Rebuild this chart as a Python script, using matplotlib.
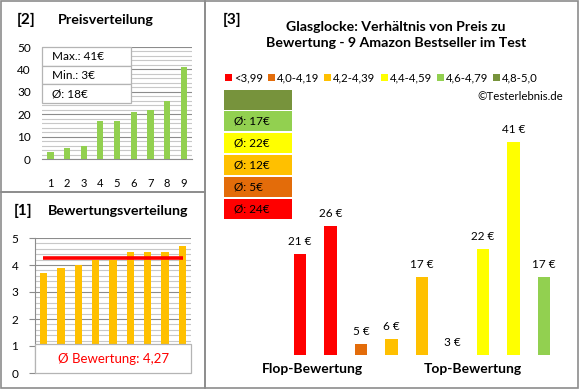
import matplotlib
matplotlib.use("Agg")
import matplotlib.pyplot as plt
from matplotlib.patches import Rectangle

plt.rcParams['font.family'] = ['Lato', 'DejaVu Sans']

# ---------------- data ----------------
price_idx = [1, 2, 3, 4, 5, 6, 7, 8, 9]
prices_sorted = [3, 5, 6, 17, 17, 21, 22, 26, 41]
price_stats = ["Max.: 41€", "Min.: 3€", "Ø: 18€"]

ratings = [3.7, 3.9, 4.0, 4.2, 4.2, 4.5, 4.5, 4.5, 4.7]
rating_mean = 4.27
rating_label = "Ø Bewertung: 4,27"

legend_labels = ["<3,99", "4,0-4,19", "4,2-4,39", "4,4-4,59", "4,6-4,79", "4,8-5,0"]
legend_colors = ["#FF0000", "#E36C0A", "#FFC000", "#FFFF00", "#92D050", "#77933C"]
group_avgs = ["", "Ø: 17€", "Ø: 22€", "Ø: 12€", "Ø: 5€", "Ø: 24€"]
group_colors = ["#77933C", "#92D050", "#FFFF00", "#FFC000", "#E36C0A", "#FF0000"]

bar_prices = [21, 26, 5, 6, 17, 3, 22, 41, 17]
bar_colors = ["#FF0000", "#FF0000", "#E36C0A", "#FFC000", "#FFC000",
              "#FFFF00", "#FFFF00", "#FFFF00", "#92D050"]
bar_labels = ["21 €", "26 €", "5 €", "6 €", "17 €", "3 €", "22 €", "41 €", "17 €"]
group_names = ["Flop-Bewertung", "Top-Bewertung"]

title3 = "Glasglocke: Verhältnis von Preis zu\nBewertung - 9 Amazon Bestseller im Test"

W, H = 580, 390
fig = plt.figure(figsize=(W / 100, H / 100), dpi=100)
fig.patch.set_facecolor("white")


def ax_px(x, y, w, h):
    return fig.add_axes([x / W, 1 - (y + h) / H, w / W, h / H])


def fx(x):
    return x / W


def fy(y):
    return 1 - y / H


border = "#8c8c8c"
# panel borders
for (x0, y0, x1, y1) in [(1, 1, 205, 192), (1, 192, 205, 388), (205, 1, 578, 388)]:
    fig.add_artist(Rectangle((fx(x0), fy(y1)), fx(x1) - fx(x0), fy(y0) - fy(y1),
                             transform=fig.transFigure, fill=False,
                             edgecolor=border, linewidth=1.2))

# ---------------- panel 2: Preisverteilung ----------------
ax2 = ax_px(42, 47, 150, 112)
ax2.bar(price_idx, prices_sorted, width=0.38, color="#92D050", zorder=3)
ax2.set_xlim(0.5, 9.5)
ax2.set_ylim(0, 50)
ax2.set_yticks([0, 10, 20, 30, 40, 50])
ax2.set_yticks(range(0, 51, 2), minor=True)
ax2.grid(axis='y', which='major', color="#8c8c8c", linewidth=0.8, zorder=0)
ax2.grid(axis='y', which='minor', color="#c8c8c8", linewidth=0.8, zorder=0)
ax2.set_xticks(price_idx)
ax2.tick_params(axis='x', length=0, pad=14, labelsize=8)
ax2.tick_params(axis='y', which='both', length=0, pad=8, labelsize=8.5)
for s in ["top", "right", "left"]:
    ax2.spines[s].set_visible(False)
ax2.spines["bottom"].set_color("#8c8c8c")
ax2.set_axisbelow(True)
# stats box
for i, t in enumerate(price_stats):
    y0 = 47 + i * 18.7
    fig.add_artist(Rectangle((fx(42), fy(y0 + 18.7)), fx(131) - fx(42), fy(y0) - fy(y0 + 18.7),
                             transform=fig.transFigure, facecolor="white",
                             edgecolor="#b4b4b4", linewidth=0.9, zorder=5))
    fig.text(fx(52), fy(y0 + 9.5), t, fontsize=8.5, va="center", ha="left", zorder=6)

fig.text(fx(17), fy(20), "[2]", fontsize=11, fontweight="bold", va="center")
fig.text(fx(58), fy(20), "Preisverteilung", fontsize=10.3, fontweight="bold", va="center")

# ---------------- panel 1: Bewertungsverteilung ----------------
ax1 = ax_px(35, 238, 156, 135)
ax1.bar(price_idx, ratings, width=0.42, color="#FFC000", zorder=3)
ax1.plot([price_idx[0] - 0.05, price_idx[-1] + 0.05], [rating_mean, rating_mean], color="#FF0000",
         linewidth=2.6, zorder=4, solid_capstyle="butt")
ax1.set_xlim(0.5, 9.5)
ax1.set_ylim(0, 5)
ax1.set_yticks([0, 1, 2, 3, 4, 5])
ax1.set_yticks([i / 5 for i in range(26)], minor=True)
ax1.grid(axis='y', which='major', color="#8c8c8c", linewidth=0.8, zorder=0)
ax1.grid(axis='y', which='minor', color="#c8c8c8", linewidth=0.8, zorder=0)
ax1.set_xticks([])
ax1.tick_params(axis='y', which='major', length=4, color="#8c8c8c", pad=8, labelsize=8.5)
ax1.tick_params(axis='y', which='minor', length=0)
for s in ["top", "right", "bottom"]:
    ax1.spines[s].set_visible(False)
ax1.spines["left"].set_color("#8c8c8c")
ax1.set_axisbelow(True)
fig.add_artist(Rectangle((fx(35), fy(373)), fx(191) - fx(35), fy(344) - fy(373),
                         transform=fig.transFigure, facecolor="white",
                         edgecolor="#b4b4b4", linewidth=0.9, zorder=5))
fig.text(fx(113), fy(359), rating_label, fontsize=9.5, color="#FF0000",
         ha="center", va="center", zorder=6)

fig.text(fx(14), fy(211), "[1]", fontsize=11, fontweight="bold", va="center")
fig.text(fx(48), fy(211), "Bewertungsverteilung", fontsize=10.3, fontweight="bold", va="center")

# ---------------- panel 3 ----------------
fig.text(fx(223), fy(20), "[3]", fontsize=11, fontweight="bold", va="center")
fig.text(fx(396), fy(35), title3, fontsize=10.2, fontweight="bold", ha="center",
         va="center", linespacing=1.45)

# legend row
lx = 225
for lab, col in zip(legend_labels, legend_colors):
    fig.add_artist(Rectangle((fx(lx), fy(81)), fx(7) - fx(0), fy(74) - fy(81),
                             transform=fig.transFigure, facecolor=col, edgecolor="none"))
    t = fig.text(fx(lx + 9), fy(77.5), lab, fontsize=8.2, va="center", ha="left")
    fig.canvas.draw()
    bb = t.get_window_extent()
    lx = bb.x1 + 5

fig.text(fx(563), fy(97), "©Testerlebnis.de", fontsize=8.2, ha="right", va="center")

# group average boxes
box_tops = [90, 111, 133, 155, 177, 199]
for top, txt, col in zip(box_tops, group_avgs, group_colors):
    fig.add_artist(Rectangle((fx(224), fy(top + 20)), fx(292) - fx(224), fy(top) - fy(top + 20),
                             transform=fig.transFigure, facecolor=col, edgecolor="none"))
    if txt:
        fig.text(fx(234), fy(top + 10), txt, fontsize=8.5, va="center", ha="left")

# price bars
ax3 = ax_px(284.75, 34, 274.5, 321)
xs = list(range(len(bar_prices)))
ax3.bar(xs, bar_prices, width=0.4, color=bar_colors, bottom=0, zorder=3)
ax3.set_xlim(-0.5, 8.5)
ax3.set_ylim(3.1, 60.2)
ax3.axis("off")
for x, v, lab in zip(xs, bar_prices, bar_labels):
    ax3.annotate(lab, (x, max(v, 3.1)), xytext=(0, 9), textcoords="offset points",
                 ha="center", va="center", fontsize=8.5)

fig.text(fx(312), fy(369), group_names[0], fontsize=10, fontweight="bold", ha="center", va="center")
fig.text(fx(473), fy(369), group_names[1], fontsize=10, fontweight="bold", ha="center", va="center")

fig.savefig("out.png", dpi=100, facecolor="white")
